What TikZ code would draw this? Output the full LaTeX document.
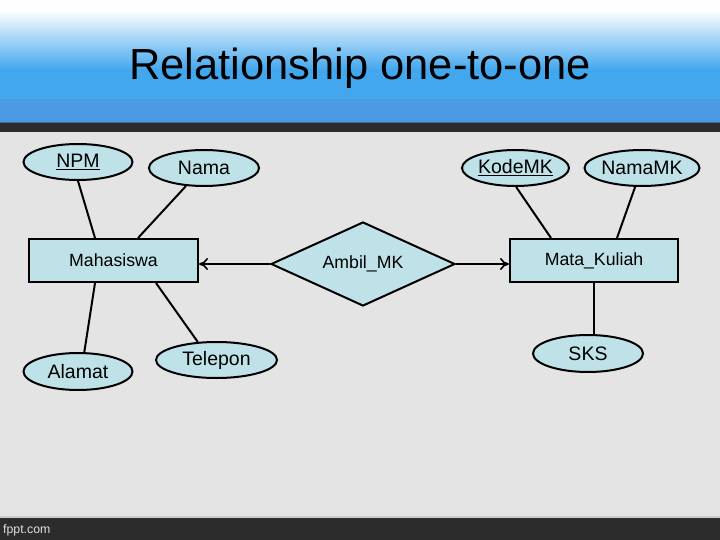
\documentclass[tikz,border=0pt]{standalone}
\usepackage{fontspec}
\setmainfont{Liberation Sans}
\usetikzlibrary{shapes.geometric,arrows.meta}
\definecolor{bodybg}{HTML}{E4E4E4}
\definecolor{hblue}{HTML}{43A7EE}
\definecolor{hband}{HTML}{4A9BE4}
\definecolor{darkbar}{HTML}{2C2C2C}
\definecolor{erfill}{HTML}{BEE2E8}
\tikzset{
  attr/.style={ellipse,draw=black,line width=2pt,fill=erfill,inner sep=0pt,
    font=\fontsize{19.5}{22}\selectfont},
  ent/.style={rectangle,draw=black,line width=2pt,fill=erfill,inner sep=0pt,
    minimum width=169pt,minimum height=43pt,font=\fontsize{17.7}{20}\selectfont},
  rel/.style={diamond,draw=black,line width=2pt,fill=erfill,inner sep=0pt,
    aspect=2.2,minimum width=184pt,minimum height=84pt,font=\fontsize{17.7}{20}\selectfont},
  link/.style={draw=black,line width=2pt},
  arr/.style={link,-{To[length=9pt,width=12pt,line width=1.6pt]}}
}
\begin{document}
\begin{tikzpicture}[x=1pt,y=-1pt]
\useasboundingbox (0,0) rectangle (720,540);
% background
\fill[bodybg] (0,132) rectangle (720,517);
\fill[white] (0,0) rectangle (720,10);
\shade[top color=white,bottom color=hblue] (0,10) rectangle (720,70);
\fill[hblue] (0,69.5) rectangle (720,99.5);
\fill[hband] (0,99) rectangle (720,122);
\fill[darkbar] (0,122) rectangle (720,132);
\fill[hband!60!darkbar] (0,122) rectangle (720,123.5);
\fill[darkbar] (0,517) rectangle (720,540);
\fill[black!20] (0,516) rectangle (720,517.5);
% texts
\node[font=\fontsize{43.5}{48}\selectfont] (title) at (360,68) {Relationship one-to-one};
\node[font=\fontsize{12.3}{14}\selectfont,text=black!12,anchor=west,inner sep=0pt] (foot) at (3,530) {fppt.com};
% entities and relation
\node[ent] (maha) at (113.5,260.5) {Mahasiswa};
\node[ent,minimum width=168pt] (mk) at (594,260.5) {Mata\_Kuliah};
\node[rel] (amb) at (363,264) {\raisebox{-2pt}{Ambil\_MK}};
% attributes
\node[attr,minimum width=109pt,minimum height=36pt] (npm) at (78,162) {\raisebox{1pt}{\underline{NPM}}};
\node[attr,minimum width=110pt,minimum height=36pt] (nama) at (204,168) {Nama};
\node[attr,minimum width=109pt,minimum height=37pt] (alamat) at (78,371.5) {Alamat};
\node[attr,minimum width=121pt,minimum height=36pt] (tel) at (216.5,360) {Telepon};
\node[attr,minimum width=107pt,minimum height=36pt] (kode) at (515.5,168) {\underline{KodeMK}};
\node[attr,minimum width=110pt,minimum height=36pt] (namamk) at (642,168) {NamaMK};
\node[attr,minimum width=110pt,minimum height=37pt] (sks) at (588,353.5) {SKS};
% connectors
\draw[link] (npm.south) -- ([xshift=67pt]maha.north west);
\draw[link] (nama.-135) -- ([xshift=110pt]maha.north west);
\draw[link] (alamat.72) -- ([xshift=67pt]maha.south west);
\draw[link] (tel.136) -- ([xshift=128pt]maha.south west);
\draw[link] (kode.-88) -- ([xshift=42pt]mk.north west);
\draw[link] (namamk.-110) -- ([xshift=108pt]mk.north west);
\draw[link] (mk.south) -- (mk.south |- sks.north);
\draw[arr] (amb.west) -- (amb.west -| maha.east);
\draw[arr] (amb.east) -- (amb.east -| mk.west);
\end{tikzpicture}
\end{document}
